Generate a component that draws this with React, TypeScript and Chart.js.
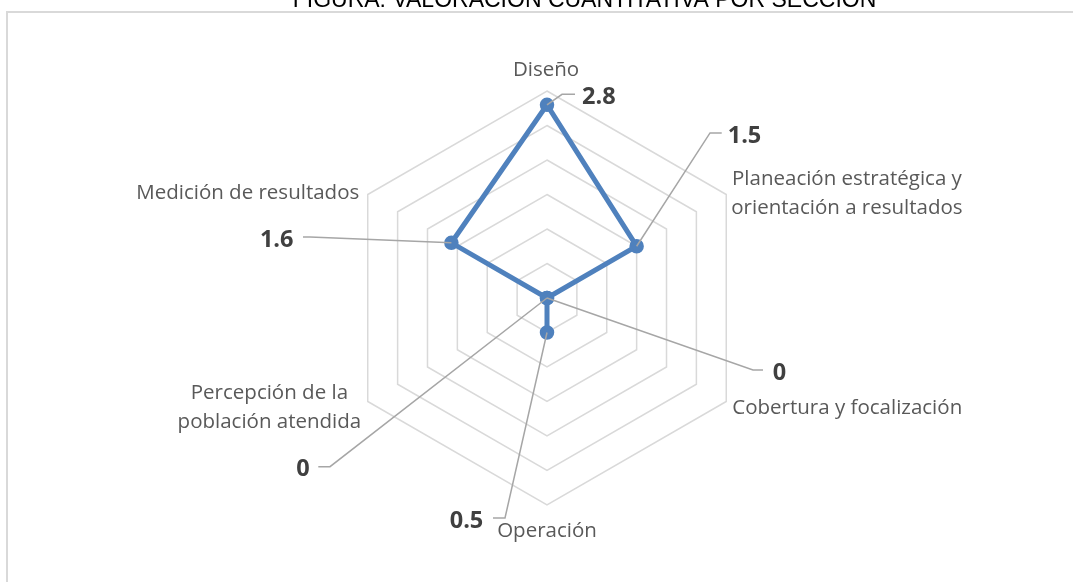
import React, { useEffect, useRef } from 'react';
import { Chart, registerables } from 'chart.js';

Chart.register(...registerables);

// ---- data ----
const chartTitle = 'FIGURA: VALORACIÓN CUANTITATIVA POR SECCIÓN';
const categories: string[][] = [
  ['Diseño'],
  ['Planeación estratégica y', 'orientación a resultados'],
  ['Cobertura y focalización'],
  ['Operación'],
  ['Percepción de la', 'población atendida'],
  ['Medición de resultados'],
];
const values: number[] = [2.8, 1.5, 0, 0.5, 0, 1.6];
const valueLabels: string[] = ['2.8', '1.5', '0', '0.5', '0', '1.6'];
const scaleMin = 0;
const scaleMax = 3;
const scaleStep = 0.5;

// ---- styles / layout ----
const SERIES_COLOR = '#4F81BD';
const GRID_COLOR = '#D9D9D9';
const LEADER_COLOR = '#A6A6A6';
const LABEL_COLOR = '#595959';
const VALUE_COLOR = '#404040';
const LABEL_FONT = '20.5px "Open Sans"';
const VALUE_FONT = 'bold 23.5px "Open Sans"';
const LINE_H = 28.5;

// point label placement relative to outer vertex of each axis
const pointLabelLayout = [
  { align: 'center', dx: -1, dy: -15 },
  { align: 'left', dx: 5, dy: -9.5 },
  { align: 'left', dx: 6, dy: 12.8 },
  { align: 'center', dx: 0, dy: 31.7 },
  { align: 'right', dx: -6.5, dy: -2.2 },
  { align: 'right', dx: -8.5, dy: 4.8 },
];

// data label leader placement relative to each data point
const leaderLayout = [
  { dx: 15, dy: -10.5, leg: 13, gap: 7 },
  { dx: 73.4, dy: -113.3, leg: 11.7, gap: 6 },
  { dx: 206, dy: 72, leg: 10, gap: 9.7 },
  { dx: -42, dy: 185.5, leg: -12, gap: 9.7 },
  { dx: -217, dy: 168.7, leg: -11.7, gap: 8.7 },
  { dx: -141.4, dy: -5.8, leg: -7, gap: 9.5 },
];

const framePlugin = {
  id: 'frameAndTitle',
  beforeDraw(chart: any) {
    const ctx = chart.ctx;
    ctx.save();
    ctx.fillStyle = '#FFFFFF';
    ctx.fillRect(0, 0, chart.width, chart.height);
    ctx.strokeStyle = GRID_COLOR;
    ctx.lineWidth = 2;
    ctx.beginPath();
    ctx.moveTo(7, chart.height + 5);
    ctx.lineTo(7, 12);
    ctx.lineTo(chart.width + 5, 12);
    ctx.stroke();
    ctx.restore();
  },
  afterDraw(chart: any) {
    const ctx = chart.ctx;
    ctx.save();
    ctx.font = '23px "Liberation Sans", Arial, sans-serif';
    ctx.fillStyle = '#000000';
    ctx.textAlign = 'center';
    ctx.textBaseline = 'alphabetic';
    ctx.fillText(chartTitle, 584.5, 7);
    ctx.restore();
  },
};

const labelsPlugin = {
  id: 'radarLabels',
  afterDatasetsDraw(chart: any) {
    const ctx = chart.ctx;
    const scale = chart.scales.r;
    const meta = chart.getDatasetMeta(0);
    ctx.save();

    // leader lines + value labels
    meta.data.forEach((pt: any, i: number) => {
      const L = leaderLayout[i];
      const ex = pt.x + L.dx;
      const ey = pt.y + L.dy;
      const lx = ex + L.leg;
      ctx.beginPath();
      ctx.strokeStyle = LEADER_COLOR;
      ctx.lineWidth = 1.5;
      ctx.moveTo(pt.x, pt.y);
      ctx.lineTo(ex, ey);
      ctx.lineTo(lx, ey);
      ctx.stroke();
      ctx.font = VALUE_FONT;
      ctx.fillStyle = VALUE_COLOR;
      ctx.textBaseline = 'alphabetic';
      if (L.leg >= 0) {
        ctx.textAlign = 'left';
        ctx.fillText(valueLabels[i], lx + L.gap, ey + 9.6);
      } else {
        ctx.textAlign = 'right';
        ctx.fillText(valueLabels[i], lx - L.gap, ey + 9.6);
      }
    });

    // category labels
    ctx.font = LABEL_FONT;
    ctx.fillStyle = LABEL_COLOR;
    ctx.textBaseline = 'alphabetic';
    ctx.textAlign = 'center';
    categories.forEach((lines, i) => {
      const P = pointLabelLayout[i];
      const v = scale.getPointPosition(i, scale.drawingArea);
      const ax = v.x + P.dx;
      const ay = v.y + P.dy;
      const maxW = Math.max(...lines.map((s) => ctx.measureText(s).width));
      let left = ax - maxW / 2;
      if (P.align === 'left') left = ax;
      if (P.align === 'right') left = ax - maxW;
      lines.forEach((s, k) => {
        ctx.fillText(s, left + maxW / 2, ay + k * LINE_H);
      });
    });
    ctx.restore();
  },
};

export default function App() {
  const ref = useRef<HTMLCanvasElement | null>(null);
  useEffect(() => {
    if (!ref.current) return;
    const chart = new Chart(ref.current, {
      type: 'radar',
      data: {
        labels: categories,
        datasets: [
          {
            label: 'Valoración',
            data: values,
            borderColor: SERIES_COLOR,
            backgroundColor: SERIES_COLOR,
            borderWidth: 5,
            fill: false,
            pointRadius: 6,
            pointBorderWidth: 2.5,
            pointBackgroundColor: SERIES_COLOR,
            pointBorderColor: SERIES_COLOR,
            tension: 0,
          },
        ],
      },
      options: {
        responsive: false,
        animation: false,
        layout: { padding: { left: 340, right: 318, top: 91, bottom: 77 } },
        plugins: {
          legend: { display: false },
          tooltip: { enabled: false },
          title: { display: false },
        },
        scales: {
          r: {
            min: scaleMin,
            max: scaleMax,
            ticks: { display: false, stepSize: scaleStep },
            grid: { color: GRID_COLOR, lineWidth: 1.5, circular: false },
            angleLines: { display: false },
            pointLabels: { display: false },
          },
        },
      },
      plugins: [framePlugin, labelsPlugin],
    });
    return () => chart.destroy();
  }, []);
  return (
    <div style={{ position: 'absolute', left: 0, top: 0, width: 1073, height: 582, overflow: 'hidden' }}>
      <canvas ref={ref} width={1073} height={582} style={{ display: 'block' }} />
    </div>
  );
}
